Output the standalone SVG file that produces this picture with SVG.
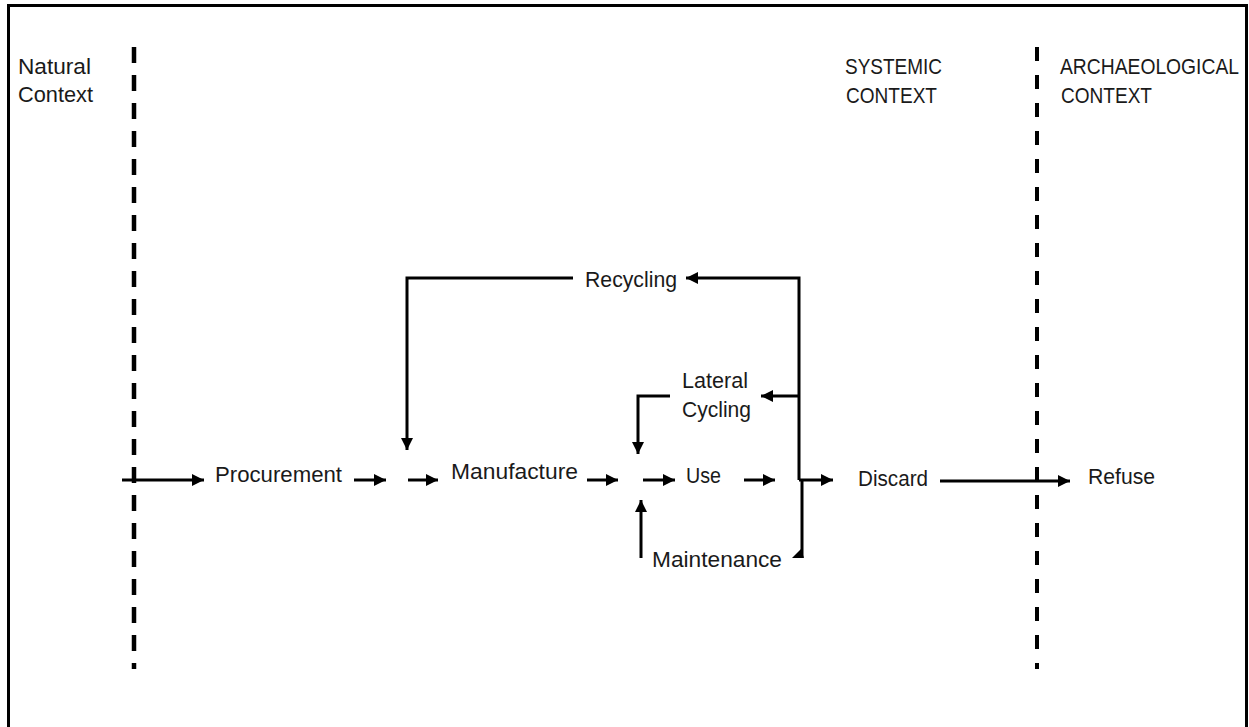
<svg xmlns="http://www.w3.org/2000/svg" width="1249" height="727" viewBox="0 0 1249 727">
  <style>
    .t { font-family: "Liberation Sans", Arial, sans-serif; font-size: 22px; fill: #1a1a1a; }
    .c { fill: none; stroke: #000; stroke-width: 3; }
    .d { fill: none; stroke: #000; }
  </style>
  <defs>
    <marker id="ah" markerUnits="userSpaceOnUse" markerWidth="13" markerHeight="13" refX="12" refY="6" orient="auto">
      <path d="M0,0 L12,6 L0,12 z" fill="#000"/>
    </marker>
  </defs>
  <rect x="0" y="0" width="1249" height="727" fill="#fff"/>
  <rect x="8.5" y="5.5" width="1238" height="760" fill="none" stroke="#000" stroke-width="3"/>

  <g id="boundaries">
    <line class="d" x1="134" y1="47" x2="134" y2="669" stroke-width="4.5" stroke-dasharray="16 12"/>
    <line class="d" x1="1037" y1="47" x2="1037" y2="669" stroke-width="4" stroke-dasharray="14 14"/>
  </g>

  <g id="natural-context"><text class="t" x="18" y="74" textLength="73" lengthAdjust="spacingAndGlyphs">Natural</text><text class="t" x="18" y="102" textLength="75" lengthAdjust="spacingAndGlyphs">Context</text></g>
  <g id="systemic-context"><text class="t" x="845" y="74" textLength="97" lengthAdjust="spacingAndGlyphs">SYSTEMIC</text><text class="t" x="846" y="103" textLength="91" lengthAdjust="spacingAndGlyphs">CONTEXT</text></g>
  <g id="archaeological-context"><text class="t" x="1060" y="74" textLength="179" lengthAdjust="spacingAndGlyphs">ARCHAEOLOGICAL</text><text class="t" x="1061" y="103" textLength="91" lengthAdjust="spacingAndGlyphs">CONTEXT</text></g>

  <g id="procurement"><text class="t" x="215" y="482" textLength="127" lengthAdjust="spacingAndGlyphs">Procurement</text></g>
  <g id="manufacture"><text class="t" x="451" y="479" textLength="127" lengthAdjust="spacingAndGlyphs">Manufacture</text></g>
  <g id="use"><text class="t" x="686" y="483" textLength="35" lengthAdjust="spacingAndGlyphs">Use</text></g>
  <g id="discard"><text class="t" x="858" y="486" textLength="70" lengthAdjust="spacingAndGlyphs">Discard</text></g>
  <g id="refuse"><text class="t" x="1088" y="484" textLength="67" lengthAdjust="spacingAndGlyphs">Refuse</text></g>
  <g id="recycling"><text class="t" x="585" y="287" textLength="92" lengthAdjust="spacingAndGlyphs">Recycling</text></g>
  <g id="lateral-cycling"><text class="t" x="682" y="388" textLength="66" lengthAdjust="spacingAndGlyphs">Lateral</text><text class="t" x="682" y="417" textLength="69" lengthAdjust="spacingAndGlyphs">Cycling</text></g>
  <g id="maintenance"><text class="t" x="652" y="567" textLength="130" lengthAdjust="spacingAndGlyphs">Maintenance</text></g>

  <g id="connectors">
    <path class="c" d="M122,480 H204" marker-end="url(#ah)"/>
    <path class="c" d="M354,480 H386" marker-end="url(#ah)"/>
    <path class="c" d="M408,480 H438" marker-end="url(#ah)"/>
    <path class="c" d="M587,480 H618" marker-end="url(#ah)"/>
    <path class="c" d="M643,480 H675" marker-end="url(#ah)"/>
    <path class="c" d="M744,480 H775" marker-end="url(#ah)"/>
    <path class="c" d="M573,278 H407 V450" marker-end="url(#ah)"/>
    <path class="c" d="M799,480 V278 H686" marker-end="url(#ah)"/>
    <path class="c" d="M799,396 H761" marker-end="url(#ah)"/>
    <path class="c" d="M670,396 H638 V454" marker-end="url(#ah)"/>
    <path class="c" d="M799,480 H833" marker-end="url(#ah)"/>
    <path class="c" d="M802,479 V557"/>
    <polygon points="792,558 804,558 801,549" fill="#000"/>
    <path class="c" d="M641,558 V500" marker-end="url(#ah)"/>
    <path class="c" d="M940,481 H1070" marker-end="url(#ah)"/>
  </g>
</svg>
